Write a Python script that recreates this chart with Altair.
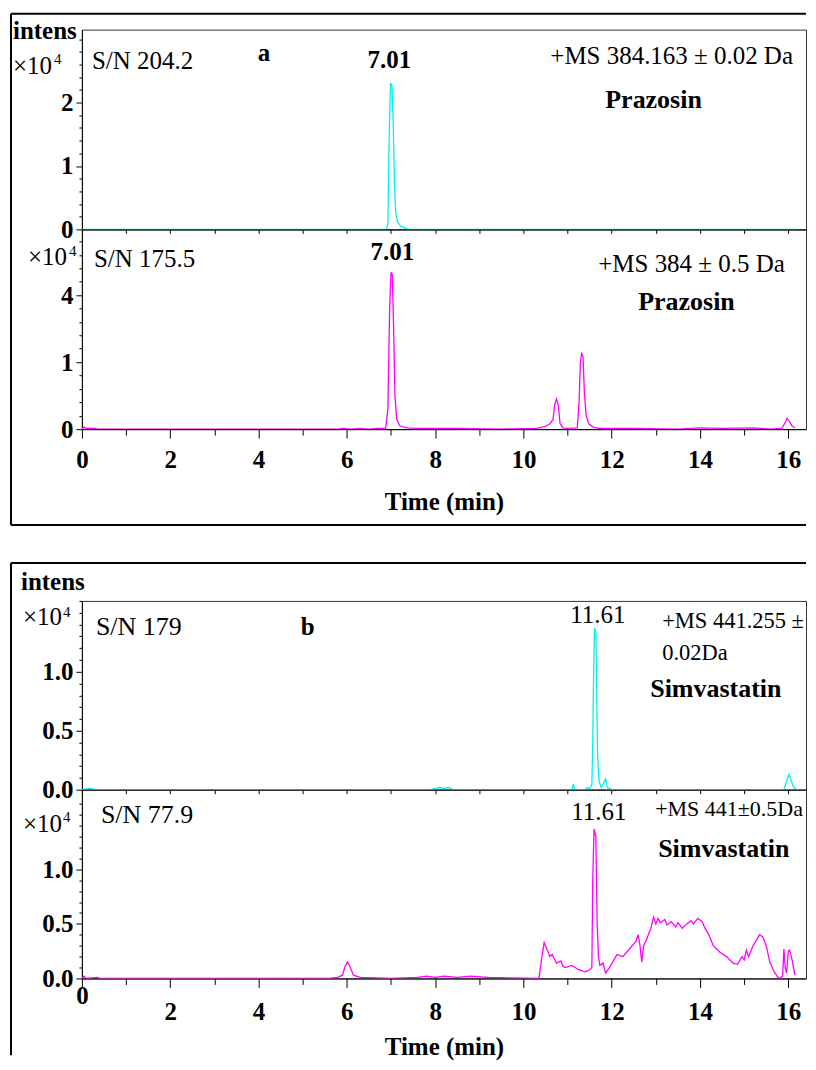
import altair as alt
import pandas as pd

FONT = "Liberation Serif"
FS = 25
PLOT_W = 725

# ---------------- data (intensity in units of 10^4) ----------------
# Panel a, upper trace: +MS 384.163 ± 0.02 Da (cyan)
a_top_time = [0.0, 0.3, 6.0, 6.9, 6.93, 6.96, 6.99, 7.02, 7.05, 7.08, 7.11, 7.15,
              7.22, 7.32, 7.4, 10.0, 12.0, 14.5, 16.2]
a_top_int = [0.0, 0.0, 0.0, 0.0, 0.1, 1.5, 2.3, 2.28, 1.7, 0.7, 0.25, 0.12,
             0.05, 0.02, 0.0, 0.0, 0.0, 0.0, 0.0]

# Panel a, lower trace: +MS 384 ± 0.5 Da (magenta)
a_bot_time = [0.0, 0.05, 0.1, 0.3, 0.35, 5.8, 5.9, 6.1, 6.3, 6.5, 6.7, 6.88,
              6.93, 6.97, 7.0, 7.03, 7.06, 7.09, 7.13, 7.2, 7.35, 7.6, 8.5, 9.5,
              10.3, 10.5, 10.6, 10.67, 10.71, 10.75, 10.79, 10.83, 10.9, 11.0,
              11.22, 11.26, 11.29, 11.32, 11.35, 11.38, 11.42, 11.48, 11.58, 11.7,
              12.5, 13.5, 14.0, 14.5, 15.2, 15.6, 15.85, 15.93, 15.97, 16.02, 16.08, 16.15]
a_bot_int = [0.0, 0.03, 0.01, 0.01, 0.0, 0.0, 0.01, 0.0, 0.01, 0.0, 0.01, 0.01,
             0.3, 1.8, 2.34, 2.3, 1.5, 0.5, 0.15, 0.05, 0.02, 0.01, 0.01, 0.0,
             0.01, 0.04, 0.08, 0.14, 0.38, 0.45, 0.35, 0.08, 0.02, 0.01,
             0.02, 0.4, 1.0, 1.13, 1.08, 0.55, 0.2, 0.08, 0.03, 0.01,
             0.01, 0.0, 0.02, 0.01, 0.02, 0.0, 0.01, 0.1, 0.16, 0.12, 0.05, 0.02]

# Panel b, upper trace: +MS 441.255 ± 0.02 Da (cyan)
b_top_time = [0.0, 0.2, 0.3, 7.9, 8.1, 8.2, 8.3, 8.4, 11.1, 11.13, 11.16, 11.4,
              11.45, 11.5, 11.55, 11.57, 11.59, 11.61, 11.64, 11.66, 11.68, 11.71,
              11.76, 11.82, 11.86, 11.9, 12.0, 15.9, 15.98, 16.02, 16.07, 16.12, 16.2]
b_top_int = [0.0, 0.01, 0.0, 0.0, 0.02, 0.01, 0.02, 0.0, 0.0, 0.05, 0.0, 0.0,
             0.02, 0.01, 0.04, 0.4, 1.0, 1.37, 1.33, 0.8, 0.3, 0.08,
             0.02, 0.06, 0.09, 0.02, 0.0, 0.0, 0.1, 0.13, 0.07, 0.02, 0.0]

# Panel b, lower trace: +MS 441 ± 0.5 Da (magenta)
b_bot_time = [0.0, 0.05, 0.1, 0.35, 0.4, 5.6, 5.8, 5.9, 5.97, 6.02, 6.08, 6.15,
              6.3, 7.0, 7.6, 7.8, 8.0, 8.2, 8.5, 8.8, 9.2, 10.35, 10.42, 10.47,
              10.55, 10.6, 10.65, 10.75, 10.85, 10.9, 10.95, 11.1, 11.25, 11.4, 11.5, 11.55,
              11.57, 11.6, 11.64, 11.67, 11.7, 11.73, 11.8, 11.86, 11.95, 12.05,
              12.12, 12.25, 12.4, 12.55, 12.6, 12.64, 12.68, 12.72, 12.78, 12.88,
              12.95, 13.0, 13.05, 13.1, 13.2, 13.25, 13.35, 13.45, 13.5, 13.6,
              13.7, 13.8, 13.85, 13.95, 14.05, 14.1, 14.2, 14.3, 14.45, 14.6,
              14.75, 14.85, 14.95, 15.0, 15.05, 15.1, 15.2, 15.35, 15.42, 15.5,
              15.58, 15.68, 15.78, 15.87, 15.9, 15.93, 15.96, 16.0, 16.03, 16.08, 16.15]
b_bot_int = [0.0, 0.02, 0.0, 0.01, 0.0, 0.0, 0.01, 0.03, 0.12, 0.15, 0.1, 0.03,
             0.01, 0.0, 0.01, 0.02, 0.01, 0.02, 0.01, 0.02, 0.01, 0.0, 0.2, 0.33,
             0.25, 0.2, 0.22, 0.14, 0.16, 0.11, 0.1, 0.12, 0.08, 0.06, 0.08, 0.1,
             0.9, 1.37, 1.3, 0.5, 0.2, 0.12, 0.14, 0.05, 0.1, 0.17,
             0.22, 0.2, 0.27, 0.34, 0.4, 0.3, 0.15, 0.3, 0.35, 0.45,
             0.56, 0.5, 0.55, 0.51, 0.54, 0.49, 0.52, 0.47, 0.51, 0.46,
             0.5, 0.53, 0.5, 0.55, 0.52, 0.47, 0.4, 0.3, 0.24, 0.2,
             0.14, 0.13, 0.2, 0.17, 0.26, 0.2, 0.3, 0.4, 0.38, 0.3,
             0.15, 0.06, 0.0, 0.02, 0.27, 0.1, 0.05, 0.25, 0.26, 0.18, 0.03]

x_ticks = list(range(0, 17))
x_domain = [0, 16.4]

ONE = pd.DataFrame({"k": [0]})


def text(s, px, py, bold=False, size=FS):
    return alt.Chart(ONE).mark_text(
        font=FONT, fontSize=size, fontWeight="bold" if bold else "normal",
        align="left", baseline="alphabetic", color="black"
    ).encode(x=alt.value(px), y=alt.value(py), text=alt.value(s))


def rule(x1, y1, x2, y2):
    return alt.Chart(ONE).mark_rule(color="black", strokeWidth=2).encode(
        x=alt.value(x1), y=alt.value(y1), x2=alt.value(x2), y2=alt.value(y2))


def trace(times, ints, color, ydom, yvals, ylabels, bottom, label_pad=None, title_pad=14):
    df = pd.DataFrame({"t": times, "i": ints})
    major = list(ylabels.keys())
    test_major = " || ".join(f"datum.value == {m}" for m in major)
    lab_expr = "".join(f"datum.value == {m} ? '{ylabels[m]}' : " for m in major) + "''"
    yaxis = alt.Axis(values=yvals, labelExpr=lab_expr, title=None,
                     tickSize={"condition": {"test": test_major, "value": 6}, "value": 3},
                     labelFont=FONT, labelFontSize=FS, labelFontWeight="bold",
                     labelPadding=3, labelOverlap=False, labelFlush=False,
                     domainColor="black", tickColor="black", grid=False)
    if bottom:
        xaxis = alt.Axis(values=x_ticks, labelExpr="datum.value % 2 == 0 ? datum.label : ''",
                         tickSize={"condition": {"test": "datum.value % 2 == 0", "value": 9}, "value": 6},
                         labelFont=FONT, labelFontSize=FS, labelFontWeight="bold",
                         labelPadding=label_pad,
                         labelOverlap=False, labelFlush=False,
                         title="Time (min)", titleFont=FONT, titleFontSize=FS,
                         titleFontWeight="bold", titlePadding=title_pad,
                         domainColor="black", tickColor="black", grid=False)
    else:
        xaxis = alt.Axis(values=x_ticks, labels=False, tickSize=4, title=None,
                         domainColor="black", tickColor="black", grid=False)
    return alt.Chart(df).mark_line(color=color, strokeWidth=1.3, clip=True).encode(
        x=alt.X("t:Q", scale=alt.Scale(domain=x_domain, nice=False, zero=False), axis=xaxis),
        y=alt.Y("i:Q", scale=alt.Scale(domain=ydom, nice=False), axis=yaxis),
    )


CYAN = "#00F0F0"
MAG = "#FF00FF"

yv_a = [round(k * 0.2, 1) for k in range(0, 16)]
yv_a2 = [round(k * 0.2, 1) for k in range(0, 15)]
yv_b = [round(k * 0.1, 1) for k in range(0, 17)]

R = PLOT_W  # right end of the frame lines (relative px)

# ---- Panel a, top ----
topA = alt.layer(
    trace(a_top_time, a_top_int, CYAN, [0, 3.15], yv_a, {0: "0", 1: "1", 2: "2"}, False),
    rule(-71, -16, R, -16), rule(-71, -16, -71, 496), rule(-71, 496, R, 496),
    text("intens", -69, 9, bold=True),
    text("×10", -69, 44), text("4", -28, 34, size=15),
    text("S/N 204.2", 10, 39),
    text("a", 176, 31, bold=True),
    text("7.01", 286, 38, bold=True),
    text("+MS 384.163 ± 0.02 Da", 469, 34),
    text("Prazosin", 524, 78, bold=True, size=26),
).properties(width=PLOT_W, height=200)

# ---- Panel a, bottom ----
botA = alt.layer(
    trace(a_bot_time, a_bot_int, MAG, [0, 2.98], yv_a2, {0: "0", 1: "1", 2: "4"}, True,
          label_pad=9, title_pad=17),
    text("×10", -54, 36), text("4", -13, 27, size=15),
    text("S/N 175.5", 12, 38),
    text("7.01", 289, 31, bold=True),
    text("+MS 384 ± 0.5 Da", 517, 43),
    text("Prazosin", 557, 81, bold=True, size=26),
).properties(width=PLOT_W, height=200)

spacer = alt.Chart(ONE).mark_point(opacity=0).encode(
    x=alt.X("k:Q", axis=None), y=alt.Y("k:Q", axis=None)
).properties(width=PLOT_W, height=172, view=alt.ViewBackground(stroke="transparent"))

# ---- Panel b, top ----
topB = alt.layer(
    trace(b_top_time, b_top_int, CYAN, [0, 1.6], yv_b, {0: "0.0", 0.5: "0.5", 1: "1.0"}, False),
    rule(-71, -38, R, -38), rule(-71, -38, -71, 455),
    text("intens", -61, -11, bold=True),
    text("×10", -59, 24), text("4", -19, 16, size=15),
    text("S/N 179", 14, 34, size=26),
    text("b", 219, 34, bold=True),
    text("11.61", 489, 22),
    text("+MS 441.255 ±", 581, 27, size=22.5),
    text("0.02Da", 581, 59, size=22.5),
    text("Simvastatin", 569, 96, bold=True, size=26),
).properties(width=PLOT_W, height=189)

# ---- Panel b, bottom ----
botB = alt.layer(
    trace(b_bot_time, b_bot_int, MAG, [0, 1.73], yv_b[:18], {0: "0.0", 0.5: "0.5", 1: "1.0"}, True,
          label_pad={"condition": {"test": "datum.value == 0", "value": -4}, "value": 12},
          title_pad=10),
    text("×10", -59, 42), text("4", -19, 32, size=15),
    text("S/N 77.9", 19, 33, size=26),
    text("11.61", 490, 30),
    text("+MS 441±0.5Da", 574, 26, size=22),
    text("Simvastatin", 577, 67, bold=True, size=26),
).properties(width=PLOT_W, height=189)

chart = alt.vconcat(topA, botA, spacer, topB, botB, spacing=0, bounds="flush").properties(
    padding={"left": 1, "top": 3, "right": 0, "bottom": 0},
    background="white",
).configure_view(stroke="#333333", strokeWidth=1)

chart.save("out.html", embed_options={"renderer": "svg", "actions": False})
